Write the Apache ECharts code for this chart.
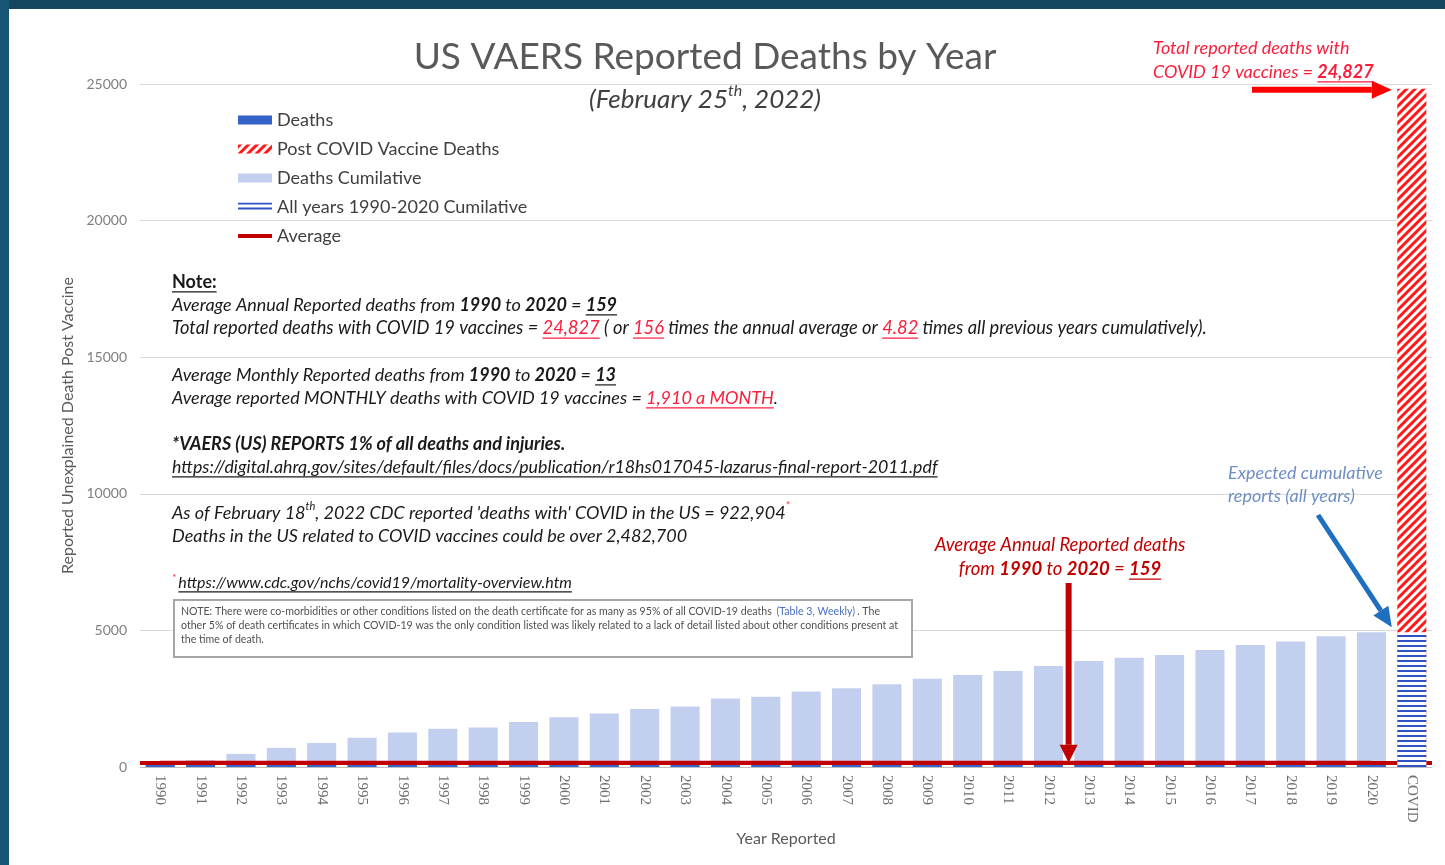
<!DOCTYPE html>
<html>
<head>
<meta charset="utf-8">
<title>US VAERS Reported Deaths by Year</title>
<script src="https://cdn.jsdelivr.net/npm/echarts@6/dist/echarts.min.js"></script>
<style>
  html, body { margin: 0; padding: 0; background: #fff; }
  #chart { width: 1445px; height: 865px; }
</style>
</head>
<body>
<div id="chart"></div>
<script>
// data
const years = ['1990', '1991', '1992', '1993', '1994', '1995', '1996', '1997', '1998', '1999',
  '2000', '2001', '2002', '2003', '2004', '2005', '2006', '2007', '2008', '2009',
  '2010', '2011', '2012', '2013', '2014', '2015', '2016', '2017', '2018', '2019', '2020', 'COVID'];
const deaths = [110, 140, 170, 160, 150, 170, 160, 140, 120, 180, 170, 140, 160, 120, 190, 130,
  170, 120, 150, 180, 140, 140, 180, 170, 120, 110, 170, 180, 120, 190, 140, '-'];
const cumulative = [110, 250, 480, 700, 880, 1070, 1260, 1400, 1450, 1650, 1820, 1960, 2120, 2210, 2510, 2570,
  2760, 2880, 3030, 3230, 3370, 3510, 3700, 3880, 4000, 4100, 4280, 4470, 4590, 4790, 4930, '-'];
const covidTotal = 24827;      // Post COVID Vaccine Deaths
const allYearsTotal = 4929;    // All years 1990-2020 cumulative
const annualAverage = 159;

const postCovid = years.map(y => y === 'COVID' ? covidTotal : '-');
const allYearsCum = years.map(y => y === 'COVID' ? allYearsTotal : '-');
const average = years.map(y => y === 'COVID' ? '-' : annualAverage);

const FONT = 'Lato';
const chart = echarts.init(document.getElementById('chart'));

const option = {
  backgroundColor: '#fff',
  animation: false,
  title: {
    text: 'US VAERS Reported Deaths by Year',
    left: 705, top: 39, textAlign: 'center', padding: 0,
    textStyle: { fontFamily: FONT, fontSize: 37, fontWeight: 'normal', color: '#595959' }
  },
  legend: {
    orient: 'vertical', left: 233, top: 106,
    itemWidth: 34, itemHeight: 9, itemGap: 11,
    selectedMode: false,
    textStyle: { fontFamily: FONT, fontSize: 18, color: '#404040' },
    data: [
      { name: 'Deaths', icon: 'rect' },
      { name: 'Post COVID Vaccine Deaths', icon: 'rect' },
      { name: 'Deaths Cumilative', icon: 'rect' },
      { name: 'All years 1990-2020 Cumilative', icon: 'rect' },
      { name: 'Average', icon: 'path://M0,0L34,0L34,4L0,4Z' }
    ]
  },
  grid: { left: 140, right: 13, top: 84, bottom: 98 },
  xAxis: {
    type: 'category',
    data: years,
    axisLine: { lineStyle: { color: '#bfbfbf' } },
    axisTick: { show: false },
    axisLabel: { rotate: -90, interval: 0, margin: 8, color: '#6f6f6f', fontFamily: 'Liberation Serif', fontSize: 15 },
    name: 'Year Reported', nameLocation: 'middle', nameGap: 58,
    nameTextStyle: { fontFamily: FONT, fontSize: 16, color: '#595959' }
  },
  yAxis: {
    type: 'value', min: 0, max: 25000, interval: 5000,
    axisLine: { show: false },
    axisTick: { show: false },
    axisLabel: { margin: 13, color: '#7f7f7f', fontFamily: FONT, fontSize: 14, formatter: v => String(v) },
    splitLine: { lineStyle: { color: '#d9d9d9' } },
    name: 'Reported Unexplained Death Post Vaccine', nameLocation: 'middle', nameGap: 61,
    nameTextStyle: { fontFamily: FONT, fontSize: 16, color: '#595959' }
  },
  series: [
    {
      name: 'Deaths Cumilative', type: 'bar', data: cumulative,
      barWidth: '72%', barGap: '-100%', z: 2,
      itemStyle: { color: '#c3cfee' }
    },
    {
      name: 'Deaths', type: 'bar', data: deaths,
      barWidth: '72%', barGap: '-100%', z: 2,
      itemStyle: { color: '#3563c9' }
    },
    {
      name: 'Average', type: 'line', data: average, symbol: 'none', z: 3,
      lineStyle: { color: '#c00000', width: 4 },
      itemStyle: { color: '#c00000' },
      markLine: {
        silent: true, symbol: 'none', label: { show: false },
        lineStyle: { color: '#c00000', width: 4, type: 'solid' },
        data: [{ type: 'average' }]
      }
    },
    {
      name: 'Post COVID Vaccine Deaths', type: 'bar', data: postCovid,
      barWidth: '72%', barGap: '-100%', z: 4,
      itemStyle: {
        color: '#ffffff',
        decal: { symbol: 'rect', symbolSize: 1, color: '#ff1a1a', dashArrayX: [1, 0], dashArrayY: [3, 3], rotation: -Math.PI / 4 }
      }
    },
    {
      name: 'All years 1990-2020 Cumilative', type: 'bar', data: allYearsCum,
      barWidth: '72%', barGap: '-100%', z: 5,
      itemStyle: {
        color: '#ffffff',
        decal: { symbol: 'rect', symbolSize: 1, color: '#2f52c4', dashArrayX: [1, 0], dashArrayY: [2, 2.6], rotation: 0 }
      }
    }
  ]
};
chart.setOption(option);

// ---- annotations ----
const meas = document.createElement('canvas').getContext('2d');

// one line of mixed text: segments {t, b, i, c, u, sup}
function textLine(opt, segs) {
  const els = [];
  const parts = segs.map(s => {
    const size = s.sup ? Math.round(opt.size * 0.6) : opt.size;
    const it = s.i !== undefined ? s.i : opt.i;
    const f = (it ? 'italic ' : '') + (s.b ? 'bold ' : '') + size + 'px ' + FONT;
    meas.font = f;
    return { s: s, f: f, w: meas.measureText(s.t).width };
  });
  const total = parts.reduce((a, p) => a + p.w, 0);
  let x = opt.align === 'center' ? opt.x - total / 2 : opt.x;
  parts.forEach(p => {
    const y = p.s.sup ? opt.y - opt.size * 0.35 : opt.y;
    const col = p.s.c || opt.c || '#1a1a1a';
    els.push({ type: 'text', z: 10, x: x, y: y,
      style: { text: p.s.t, font: p.f, fill: col, align: 'left', verticalAlign: 'middle' } });
    if (p.s.u) {
      const uy = opt.y + opt.size * 0.55;
      els.push({ type: 'line', z: 10, shape: { x1: x, y1: uy, x2: x + p.w, y2: uy },
        style: { stroke: col, lineWidth: 1.2 } });
    }
    x += p.w;
  });
  return els;
}

function arrow(x1, y1, x2, y2, color, w, hl, hw) {
  const len = Math.hypot(x2 - x1, y2 - y1);
  const ux = (x2 - x1) / len, uy = (y2 - y1) / len;
  const bx = x2 - ux * hl, by = y2 - uy * hl;
  return [
    { type: 'line', z: 10, shape: { x1: x1, y1: y1, x2: bx, y2: by }, style: { stroke: color, lineWidth: w } },
    { type: 'polygon', z: 10, shape: { points: [[x2, y2], [bx - uy * hw, by + ux * hw], [bx + uy * hw, by - ux * hw]] },
      style: { fill: color } }
  ];
}

const RED = '#fa1e3c';
const DARKRED = '#c00000';
const px = (cat, v) => chart.convertToPixel({ xAxisIndex: 0, yAxisIndex: 0 }, [cat, v]);
const topTip = px('COVID', covidTotal);
const avgA = px('2012', annualAverage), avgB = px('2013', annualAverage);
const blueTip = px('COVID', allYearsTotal);

let g = [
  { type: 'rect', z: 20, shape: { x: 0, y: 0, width: 1445, height: 9 }, style: { fill: '#15465f' } },
  { type: 'rect', z: 20, shape: { x: 0, y: 0, width: 9, height: 865 }, style: { fill: '#185675' } }
];

g = g.concat(
  textLine({ x: 705, y: 100, size: 26, i: true, c: '#404040', align: 'center' },
    [{ t: '(February 25' }, { t: 'th', sup: true }, { t: ', 2022)' }]),

  textLine({ x: 1153, y: 48, size: 18, i: true, c: RED }, [{ t: 'Total reported deaths with' }]),
  textLine({ x: 1153, y: 72, size: 18, i: true, c: RED },
    [{ t: 'COVID 19 vaccines = ' }, { t: '24,827', b: true, u: true }]),
  arrow(1252, topTip[1] + 1, topTip[0] - 20, topTip[1] + 1, '#ff0000', 6, 20, 9),

  textLine({ x: 1228, y: 473, size: 18, i: true, c: '#6f8fc4' }, [{ t: 'Expected cumulative' }]),
  textLine({ x: 1228, y: 496, size: 18, i: true, c: '#6f8fc4' }, [{ t: 'reports (all years)' }]),
  arrow(1318, 515, blueTip[0] - 20, blueTip[1] - 5, '#1f6fc0', 5, 20, 9),

  textLine({ x: 1060, y: 545, size: 18.5, i: true, c: DARKRED, align: 'center' }, [{ t: 'Average Annual Reported deaths' }]),
  textLine({ x: 1060, y: 569, size: 18.5, i: true, c: DARKRED, align: 'center' },
    [{ t: 'from ' }, { t: '1990', b: true }, { t: ' to ' }, { t: '2020', b: true }, { t: ' = ' }, { t: '159', b: true, u: true }]),
  arrow((avgA[0] + avgB[0]) / 2, 583, (avgA[0] + avgB[0]) / 2, avgA[1], DARKRED, 6, 18, 9),

  textLine({ x: 172, y: 282, size: 18 }, [{ t: 'Note:', b: true, u: true }]),
  textLine({ x: 172, y: 305, size: 18, i: true },
    [{ t: 'Average Annual Reported deaths from ' }, { t: '1990', b: true }, { t: ' to ' }, { t: '2020', b: true },
     { t: ' = ' }, { t: '159', b: true, u: true }]),
  textLine({ x: 172, y: 328, size: 18.3, i: true },
    [{ t: 'Total reported deaths with COVID 19 vaccines = ' }, { t: '24,827', c: RED, u: true }, { t: ' ( or ' },
     { t: '156', c: RED, u: true }, { t: ' times the annual average or ' }, { t: '4.82', c: RED, u: true },
     { t: ' times all previous years cumulatively).' }]),
  textLine({ x: 172, y: 375, size: 18, i: true },
    [{ t: 'Average Monthly Reported deaths from ' }, { t: '1990', b: true }, { t: ' to ' }, { t: '2020', b: true },
     { t: ' = ' }, { t: '13', b: true, u: true }]),
  textLine({ x: 172, y: 398, size: 18, i: true },
    [{ t: 'Average reported MONTHLY deaths with COVID 19 vaccines = ' }, { t: '1,910 a MONTH', c: RED, u: true }, { t: '.' }]),
  textLine({ x: 172, y: 444, size: 18, i: true },
    [{ t: '*VAERS (US) REPORTS 1% of all deaths and injuries.', b: true }]),
  textLine({ x: 172, y: 467, size: 17.8, i: true },
    [{ t: 'https://digital.ahrq.gov/sites/default/files/docs/publication/r18hs017045-lazarus-final-report-2011.pdf', u: true }]),
  textLine({ x: 172, y: 513, size: 18, i: true },
    [{ t: 'As of February 18' }, { t: 'th', sup: true }, { t: ", 2022 CDC reported 'deaths with' COVID in the US = 922,904" },
     { t: '*', sup: true, c: RED }]),
  textLine({ x: 172, y: 536, size: 18, i: true },
    [{ t: 'Deaths in the US related to COVID vaccines could be over 2,482,700' }]),
  textLine({ x: 172, y: 583, size: 16, i: true },
    [{ t: '* ', sup: true, c: RED }, { t: 'https://www.cdc.gov/nchs/covid19/mortality-overview.htm', u: true }]),

  [{ type: 'rect', z: 10, shape: { x: 174, y: 600, width: 738, height: 57 },
     style: { fill: '#fff', stroke: '#a6a6a6', lineWidth: 2 } },
   { type: 'text', z: 11, x: 181, y: 605,
     style: {
       text: 'NOTE: There were co-morbidities or other conditions listed on the death certificate for as many as 95% of all COVID-19 deaths {l|(Table 3, Weekly)}. The other 5% of death certificates in which COVID-19 was the only condition listed was likely related to a lack of detail listed about other conditions present at the time of death.',
       width: 722, overflow: 'break', lineHeight: 14,
       fontFamily: FONT, fontSize: 10.6, fill: '#505050',
       rich: { l: { fill: '#4a6fc0', fontFamily: FONT, fontSize: 10.6 } }
     } }]
);

chart.setOption({ graphic: { elements: g } });
</script>
</body>
</html>
